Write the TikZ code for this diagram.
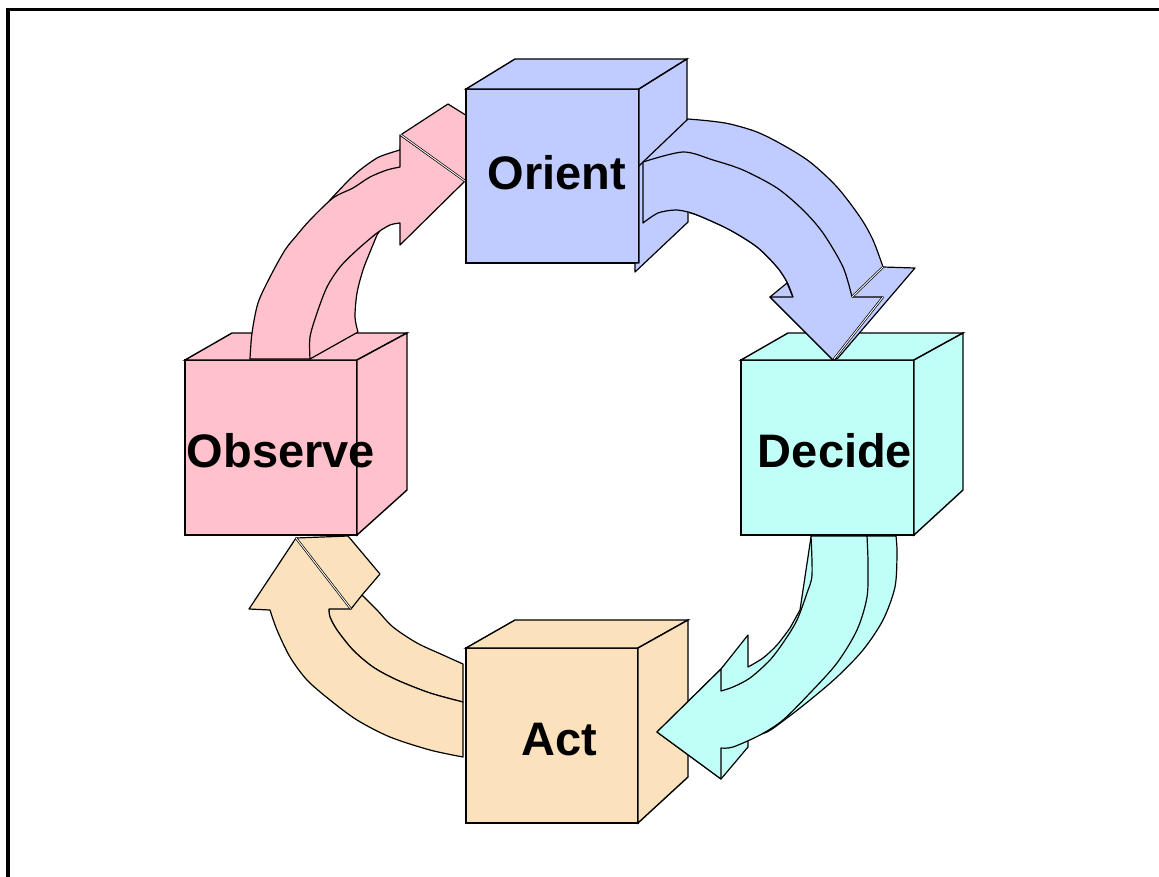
\documentclass[tikz,border=0pt]{standalone}
\usepackage{fontspec}
\setmainfont{Liberation Sans}
\definecolor{pinkc}{HTML}{FFC1CC}
\definecolor{bluec}{HTML}{C0CCFF}
\definecolor{cyanc}{HTML}{BFFFF7}
\definecolor{tanc}{HTML}{FCE2BC}
\tikzset{
  cubeline/.style={draw=black, line width=1.4pt, line join=miter},
  arrline/.style={draw=black, line width=1.2pt, line join=round},
  dbl/.style={draw=black, line width=0.7pt, double=white, double distance=0.9pt},
  lbl/.style={font=\fontsize{47}{50}\selectfont\bfseries, anchor=base, inner sep=0pt}
}
\begin{document}
\begin{tikzpicture}[x=1pt,y=-1pt]
\useasboundingbox (0,0) rectangle (1159,876);
\fill[white] (0,0) rectangle (1159,876);
\draw[line width=3.5pt] (8,9.5) rectangle (1200,920);

% ---------- Act -> Observe arrow (tan) ----------
\path[arrline, fill=tanc] (463,664) -- plot[smooth] coordinates {(463,664)(443,655)(417,643)(393,627)(377,610)(362,595)} -- (380,574) -- (348,536) -- (296,538) -- (329,609) -- plot[smooth] coordinates {(329,609)(330,617)(337,630)(353,650)(373,667)(397,680)(430,693)(463,702)} -- cycle;
\path[arrline, fill=tanc] (463,702) -- (463,757) -- plot[smooth] coordinates {(463,757)(430,750)(390,737)(357,720)(330,700)(307,680)(290,657)(277,630)(270,610)} -- (249,609) -- (296,538) -- (351,609) -- (329,609) -- plot[smooth] coordinates {(329,609)(330,617)(337,630)(353,650)(373,667)(397,680)(430,693)(463,702)} -- cycle;
\draw[dbl] (296,538) -- (351,609);
\draw[arrline] (351,609) -- (362,595);

% ---------- Observe cube ----------
\path[cubeline, fill=pinkc] (185,360) rectangle (357,535);
\path[cubeline, fill=pinkc] (185,360) -- (232,333) -- (407,333) -- (357,360) -- cycle;
\path[cubeline, fill=pinkc] (357,360) -- (407,333) -- (407,490) -- (357,535) -- cycle;
\node[lbl] (observe) at (281,467) {Observe};

% ---------- Act cube ----------
\path[cubeline, fill=tanc] (466,648) rectangle (638,823);
\path[cubeline, fill=tanc] (466,648) -- (515,620) -- (688,620) -- (638,648) -- cycle;
\path[cubeline, fill=tanc] (638,648) -- (688,620) -- (688,777) -- (638,823) -- cycle;
\node[lbl] (act) at (559,755) {Act};

% ---------- Observe -> Orient arrow (pink) ----------
\path[arrline, fill=pinkc] (310,359) -- (358,332) -- plot[smooth] coordinates {(358,332)(355,317)(357,293)(363,270)(370,252)(377,235)} -- (400,200) -- (465,181) -- (472,181) -- (472,119) -- (448,104) -- (402,134) -- (400,150) -- plot[smooth] coordinates {(400,150)(390,153)(377,158)(360,170)(347,182)(330,200)} -- (300,240) -- (280,300) -- cycle;
\path[arrline, fill=pinkc] (250,359) -- plot[smooth] coordinates {(250,359)(252,333)(258,303)(270,277)(285,250)(297,235)(310,220)(333,198)(353,188)(370,177)(387,170)(400,167)} -- (400,135) -- (465,181) -- (400,245) -- (400,223) -- plot[smooth] coordinates {(400,223)(390,225)(377,233)(357,250)(340,267)(327,287)(317,313)(310,337)(310,359)} -- cycle;
\draw[dbl] (401,135) -- (465,181);

% ---------- Orient cube ----------
\path[cubeline, fill=bluec] (466,89) rectangle (639,263);
\path[cubeline, fill=bluec] (466,89) -- (515,59) -- (687,59) -- (639,89) -- cycle;
\path[cubeline, fill=bluec] (639,89) -- (687,59) -- (687,215) -- (639,263) -- cycle;
\node[lbl] (orient) at (557,189) {Orient};

% ---------- Decide cube ----------
\path[cubeline, fill=cyanc] (741,360) rectangle (914,535);
\path[cubeline, fill=cyanc] (741,360) -- (788,333) -- (963,333) -- (914,360) -- cycle;
\path[cubeline, fill=cyanc] (914,360) -- (963,333) -- (963,490) -- (914,535) -- cycle;
\node[lbl] (decide) at (835,467) {Decide};

% ---------- Orient -> Decide arrow (blue) ----------
\path[arrline, fill=bluec] (639,166) -- (643,162) -- (688,119) -- plot[smooth] coordinates {(688,119)(710,121)(730,124)(757,132)(783,145)(810,162)(837,187)(860,217)(873,240)(883,267)} -- (915,268) -- (838,358) -- (833,360) -- (770,297) -- (787,283) -- (793,297) -- plot[smooth] coordinates {(793,297)(787,282)(777,267)(757,247)(730,230)(702,217)(688,212)} -- (688,222) -- (635,272) -- (635,263) -- (639,263) -- cycle;
\path[arrline, fill=bluec] (643,162) -- plot[smooth] coordinates {(643,162)(683,152)(713,160)(743,170)(777,188)(803,210)(823,233)(843,267)(852,297)} -- (883,297) -- (833,360) -- (770,297) -- (793,297) -- plot[smooth] coordinates {(793,297)(787,282)(777,267)(757,247)(730,230)(702,217)(688,212)(675,210)(658,213)(643,223)} -- cycle;
\draw[dbl] (852,297) -- (883,267);
\draw[dbl] (883,297) -- (834,359);

% ---------- Decide -> Act arrow (cyan) ----------
\path[arrline, fill=cyanc] (867,536) -- (896,536) -- plot[smooth] coordinates {(896,536)(897,553)(895,587)(883,620)(863,650)(837,677)(810,700)(787,718)(767,732)(748,737)} -- (748,747) -- (721,779) -- (657,732) -- (721,669) -- (748,635) -- (748,667) -- plot[smooth] coordinates {(748,667)(763,658)(777,645)(790,628)} -- (800,610) -- (811,537) -- cycle;
\path[arrline, fill=cyanc] (811,536) -- (867,536) -- plot[smooth] coordinates {(867,536)(868,563)(867,597)(857,630)(837,663)(810,693)(783,720)(760,735)(733,747)(721,748)} -- (721,779) -- (657,732) -- (721,669) -- (721,691) -- plot[smooth] coordinates {(721,691)(733,687)(750,678)(770,660)(785,640)(797,620)(807,593)(812,575)(811,536)} -- cycle;
\end{tikzpicture}
\end{document}
